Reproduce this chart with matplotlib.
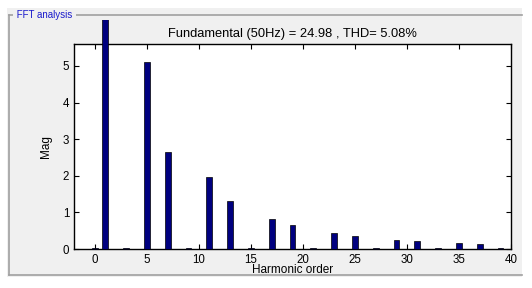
# FFT analysis bar chart (harmonic spectrum)

import matplotlib.pyplot as plt
from matplotlib.patches import Rectangle
from matplotlib.lines import Line2D
from matplotlib.transforms import Bbox, TransformedBbox

# Data
harmonics = [0, 1, 3, 5, 7, 9, 11, 13, 15, 17, 19, 21, 23, 25, 27, 29, 31, 33, 35, 37, 39]
mags = [0.03, 24.98, 0.02, 5.10, 2.65, 0.03, 1.97, 1.31, 0.02, 0.82, 0.65,
        0.03, 0.44, 0.36, 0.02, 0.25, 0.21, 0.02, 0.16, 0.13, 0.03]
x_ticks = [0, 5, 10, 15, 20, 25, 30, 35, 40]
y_ticks = [0, 1, 2, 3, 4, 5]
title = "Fundamental (50Hz) = 24.98 , THD= 5.08%"
panel_label = "FFT analysis"

W, H = 532, 288


def main():
    plt.rcParams['font.family'] = ['Liberation Sans', 'DejaVu Sans']
    fig = plt.figure(figsize=(W / 100, H / 100), dpi=100)
    fig.patch.set_facecolor('white')

    # gray panel background
    fig.add_artist(Rectangle((7 / W, 1 - 277 / H), (522 - 7) / W, (277 - 8) / H,
                             transform=fig.transFigure, facecolor='#f0f0f0',
                             edgecolor='none', zorder=-2))
    # panel border lines (left, top, bottom)
    gray = '#a0a0a0'
    fig.add_artist(Line2D([8.5 / W, 8.5 / W], [1 - 15 / H, 1 - 275 / H],
                          transform=fig.transFigure, color=gray, lw=1.2, zorder=-1))
    fig.add_artist(Line2D([8.5 / W, 522 / W], [1 - 15 / H, 1 - 15 / H],
                          transform=fig.transFigure, color=gray, lw=1.2, zorder=-1))
    fig.add_artist(Line2D([8.5 / W, 522 / W], [1 - 275 / H, 1 - 275 / H],
                          transform=fig.transFigure, color=gray, lw=1.2, zorder=-1))
    fig.text(14 / W, 1 - 15 / H, " " + panel_label + " ", color='#1a1acc', fontsize=7,
             va='center', ha='left', zorder=0,
             bbox=dict(facecolor='#f0f0f0', edgecolor='none', pad=0.5))

    ax = fig.add_axes([74 / W, 1 - 249 / H, (511 - 74) / W, (249 - 44) / H])
    ax.set_zorder(2)
    ax.set_facecolor('white')
    bars = ax.bar(harmonics, mags, width=0.55, color='#00007f',
                  edgecolor='black', linewidth=0.5, zorder=3)
    # bars may go past the axes top, as in the original, up to the panel
    clip = TransformedBbox(Bbox([[0, 0], [1, 1 - 20 / H]]), fig.transFigure)
    for b in bars:
        b.set_clip_box(clip)

    ax.set_xlim(-2, 40)
    ax.set_ylim(0, 5.6)
    ax.set_xticks(x_ticks)
    ax.set_yticks(y_ticks)
    ax.tick_params(direction='in', length=3.5, width=0.8, labelsize=8.3,
                   top=True, right=True, pad=3.5)
    for s in ax.spines.values():
        s.set_linewidth(1)
    ax.set_xlabel('Harmonic order', fontsize=8.5, labelpad=-1)
    ax.set_ylabel('Mag', fontsize=8.5, labelpad=8)
    ax.set_title(title, fontsize=9.3, pad=5)

    fig.savefig('out.png', dpi=100, facecolor=fig.get_facecolor())


if __name__ == "__main__":
    main()
